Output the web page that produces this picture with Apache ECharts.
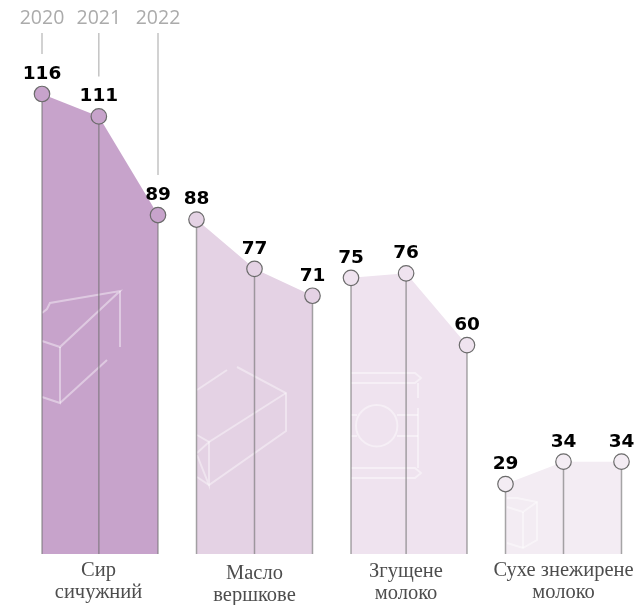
<!DOCTYPE html>
<html>
<head>
<meta charset="utf-8">
<style>html,body{margin:0;padding:0;background:#fff}#c{width:639px;height:605px}</style>
<script src="https://cdn.jsdelivr.net/npm/echarts@6/dist/echarts.min.js"></script>
</head>
<body>
<div id="c"></div>
<script>
const years = ['2020', '2021', '2022'];
const products = ['Сир\nсичужний', 'Масло\nвершкове', 'Згущене\nмолоко', 'Сухе знежирене\nмолоко'];
const cheese = [116, 111, 89];
const butter = [88, 77, 71];
const condensed = [75, 76, 60];
const powder = [29, 34, 34];
// horizontal place of each year inside its group
const slotsA = [0, 0.98, 2];
const slotsB = [0, 1, 2];
const slotsC = [0, 0.95, 2];
const slotsD = [0, 1, 2];

const groups = [cheese, butter, condensed, powder];
const slots = [slotsA, slotsB, slotsC, slotsD];
const fills = ['#c7a3cb', '#e4d2e4', '#efe3ef', '#f3ecf3'];
const edges = [[42, 158], [196.5, 312.5], [351, 467], [505.5, 621.5]];
const nameGaps = [6, 9, 7, 6];
const nameShift = [-1.5, 0, -3, 0];
const axisBase = 13.4, axisTop = 116, plotTop = 94, plotBottom = 554;

const grid = [], xAxis = [], yAxis = [], series = [];
groups.forEach((vals, i) => {
  grid.push({left: edges[i][0], width: edges[i][1] - edges[i][0], top: plotTop, height: plotBottom - plotTop, outerBoundsMode: 'none', containLabel: false});
  xAxis.push({
    gridIndex: i, type: 'value', min: 0, max: 2, position: 'bottom',
    axisLine: {show: false}, axisTick: {show: false}, axisLabel: {show: false}, splitLine: {show: false},
    name: products[i], nameLocation: 'middle', nameGap: nameGaps[i],
    nameTextStyle: {fontFamily: 'Liberation Serif', fontSize: 20.5, color: '#4d4d4d', lineHeight: 22, verticalAlign: 'top', padding: [0, 0, 0, nameShift[i] * 2]}
  });
  yAxis.push({gridIndex: i, type: 'value', min: axisBase, max: axisTop, show: false, splitLine: {show: false}});
  const pts = vals.map((v, k) => [slots[i][k], v]);
  series.push({
    type: 'line', xAxisIndex: i, yAxisIndex: i, data: pts, z: 1, clip: false, silent: true,
    symbol: 'none', lineStyle: {width: 0}, areaStyle: {color: fills[i], opacity: 1, origin: 'start'}
  });
  series.push({
    type: 'custom', xAxisIndex: i, yAxisIndex: i, data: pts, z: 3, clip: false, silent: true,
    renderItem: (params, api) => {
      const a = api.coord([api.value(0), api.value(1)]);
      const b = api.coord([api.value(0), axisBase]);
      return {type: 'line', shape: {x1: a[0], y1: a[1], x2: b[0], y2: b[1]},
        style: {stroke: 'rgba(110,110,110,0.6)', lineWidth: 1.5}};
    }
  });
  series.push({
    type: 'line', xAxisIndex: i, yAxisIndex: i, data: pts, z: 4, clip: false, silent: true,
    lineStyle: {width: 0}, symbol: 'circle', symbolSize: 15.5, showSymbol: true,
    itemStyle: {color: fills[i], borderColor: '#6b6b6b', borderWidth: 1.2, opacity: 1},
    label: {show: true, position: 'top', distance: 2, formatter: p => p.value[1],
      fontFamily: 'DejaVu Sans', fontWeight: 'bold', fontSize: 18.5, color: '#000'}
  });
});

// year headings and their leader lines, hung above the first group's points
series.push({
  type: 'custom', xAxisIndex: 0, yAxisIndex: 0, clip: false, silent: true, z: 5,
  data: cheese.map((v, k) => [slotsA[k], v]),
  renderItem: (params, api) => {
    const p = api.coord([api.value(0), api.value(1)]);
    return {type: 'group', children: [
      {type: 'line', shape: {x1: p[0], y1: 33, x2: p[0], y2: p[1] - 40}, style: {stroke: '#b4b4b4', lineWidth: 1.2}},
      {type: 'text', style: {text: years[params.dataIndex], x: p[0], y: 18, align: 'center', verticalAlign: 'middle',
        font: '19.5px "Open Sans"', fill: '#ababab'}}
    ]};
  }
});

const iconLine = (points, alpha) => ({type: 'polyline', z: 2, shape: {points},
  style: {fill: null, stroke: 'rgba(255,255,255,' + alpha + ')', lineWidth: 2}, silent: true});
const graphic = [
  [[42,313],[47,309],[50,303],[120,291],[60,347],[42,341]],
  [[60,347],[60,403],[42,397]],
  [[60,403],[107,360]],
  [[120,291],[120,347]],
].map(p => iconLine(p, 0.42)).concat([
  [[197,390],[227,370]],
  [[237,367],[286,393],[286,431],[209,485],[197,477]],
  [[286,393],[209,442],[209,485],[197,455]],
  [[197,435],[209,442],[197,453]],
].map(p => iconLine(p, 0.4))).concat([
  [[351,373],[415,373],[421,378],[415,383],[351,383]],
  [[418,383],[418,398]],
  [[351,415],[357,415]], [[397,415],[418,415]],
  [[351,436],[357,436]], [[397,436],[418,436]],
  [[418,408],[418,468]],
  [[351,468],[415,468],[421,473],[415,478],[351,478]],
].map(p => iconLine(p, 0.42))).concat([
  {type: 'circle', z: 2, silent: true, shape: {cx: 376.7, cy: 425.7, r: 20.7},
   style: {fill: null, stroke: 'rgba(255,255,255,0.42)', lineWidth: 2}}
]).concat([
  [[507,498],[517,498],[537,502],[537,540],[523,548],[507,543]],
  [[507,507],[523,512],[537,502]],
  [[523,512],[523,548]],
].map(p => iconLine(p, 0.45)));

const chart = echarts.init(document.getElementById('c'), null, {renderer: 'canvas'});
chart.setOption({animation: false, grid, xAxis, yAxis, series, graphic});
</script>
</body>
</html>
